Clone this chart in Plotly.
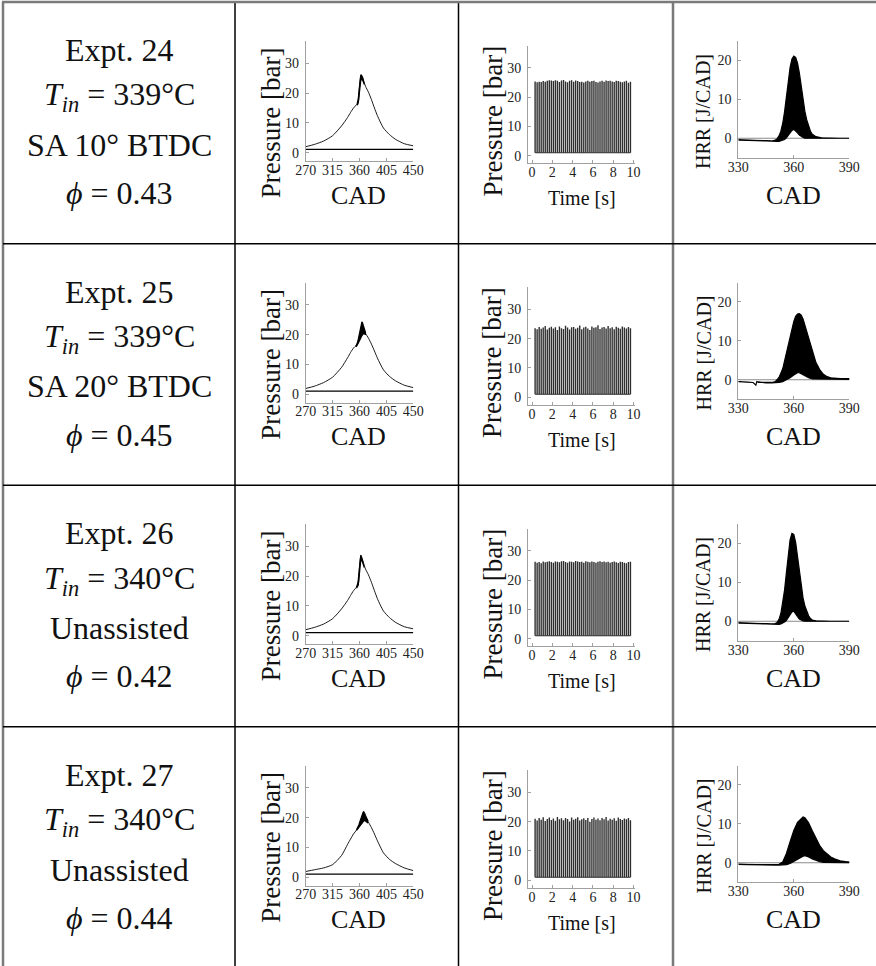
import plotly.graph_objects as go

W, H = 876, 966
ROW_STEP = 241.5

# ---------------- table text ----------------
expt_labels = ["Expt. 24", "Expt. 25", "Expt. 26", "Expt. 27"]
inlet_temp_c = [339, 339, 340, 340]
spark_setting = ["SA 10° BTDC", "SA 20° BTDC", "Unassisted", "Unassisted"]
equiv_ratio = ["0.43", "0.45", "0.42", "0.44"]

# ---------------- pressure vs crank angle ----------------
cad_grid = [270, 285, 300, 315, 330, 340, 345, 350, 355, 358, 360, 362, 364,
            366, 368, 370, 375, 380, 385, 390, 400, 410, 420, 435, 450]
p_cad_24 = [2.0, 2.8, 3.9, 5.7, 9.0, 11.8, 13.5, 15.0, 16.1, 17.0, 22.0, 25.2, 25.4,
            24.6, 23.5, 22.3, 20.3, 17.8, 15.0, 12.4, 8.3, 6.1, 4.5, 3.0, 2.3]
p_cad_25 = [1.9, 2.7, 3.9, 5.7, 9.0, 12.2, 14.0, 15.5, 16.5, 17.3, 18.6, 20.5, 21.5,
            21.6, 21.0, 20.4, 18.8, 16.8, 14.5, 12.1, 8.2, 6.0, 4.5, 3.0, 2.2]
p_cad_26 = [2.0, 2.8, 3.9, 5.7, 9.0, 11.8, 13.5, 15.1, 16.3, 17.2, 23.0, 26.4, 26.0,
            24.9, 23.6, 22.4, 20.4, 17.9, 15.1, 12.4, 8.3, 6.1, 4.5, 3.0, 2.3]
p_cad_27 = [1.9, 2.5, 3.1, 4.2, 7.3, 11.0, 12.8, 14.5, 15.8, 16.5, 17.2, 18.2, 19.2,
            19.8, 19.8, 19.4, 18.4, 16.6, 14.5, 12.2, 8.2, 6.0, 4.6, 3.1, 2.2]
p_floor = [1.1, 1.05, 1.05, 1.0]

# cycle-to-cycle spread around the pressure peak (max / min over all cycles)
band_cad_24 = [356, 357, 358, 359, 360, 361, 362, 363, 364, 365, 366, 367, 368]
band_hi_24 = [16.4, 17.0, 18.2, 20.4, 23.4, 25.3, 26.0, 26.1, 25.9, 25.4, 24.8, 24.1, 23.5]
band_lo_24 = [15.9, 16.3, 16.8, 17.4, 19.3, 22.2, 24.0, 24.8, 24.8, 24.4, 24.0, 23.4, 22.9]

band_cad_25 = [354, 356, 358, 360, 361, 362, 363, 364, 365, 366, 367, 368, 370]
band_hi_25 = [16.2, 17.0, 18.5, 20.8, 22.2, 23.3, 24.0, 24.3, 24.0, 23.4, 22.7, 22.0, 20.8]
band_lo_25 = [15.9, 16.4, 17.1, 17.8, 18.3, 18.8, 19.3, 19.7, 20.0, 20.2, 20.3, 20.3, 20.1]

band_cad_26 = [355, 356, 357, 358, 359, 360, 361, 362, 363, 364, 365, 366, 367, 368]
band_hi_26 = [16.3, 16.8, 17.5, 18.9, 21.4, 24.4, 26.2, 26.9, 26.8, 26.1, 25.4, 24.7, 24.0, 23.5]
band_lo_26 = [15.9, 16.2, 16.6, 17.1, 17.9, 20.0, 23.0, 25.0, 25.4, 25.2, 24.7, 24.1, 23.5, 22.9]

band_cad_27 = [355, 357, 359, 361, 363, 365, 366, 367, 368, 369, 370, 372, 374]
band_hi_27 = [15.9, 16.6, 17.6, 18.9, 20.3, 21.4, 21.8, 22.0, 21.8, 21.3, 20.7, 19.8, 19.0]
band_lo_27 = [15.7, 16.2, 16.8, 17.3, 17.8, 18.3, 18.6, 18.9, 19.0, 19.0, 18.9, 18.6, 18.2]

# ---------------- pressure vs time (peak pressure of each cycle) ----------------
cycle_time_s = [0.3, 0.5, 0.7, 0.9, 1.1, 1.3, 1.5, 1.7, 1.9, 2.1, 2.3, 2.5, 2.7, 2.9, 3.1, 3.3,
                3.5, 3.7, 3.9, 4.1, 4.3, 4.5, 4.7, 4.9, 5.1, 5.3, 5.5, 5.7, 5.9, 6.1, 6.3, 6.5,
                6.7, 6.9, 7.1, 7.3, 7.5, 7.7, 7.9, 8.1, 8.3, 8.5, 8.7, 8.9, 9.1, 9.3, 9.5, 9.7]
peak_p_24 = [25.4, 25.1, 25.3, 25.2, 25.5, 25.3, 25.6, 25.8, 25.7, 25.5, 25.8, 25.6, 25.2, 25.7,
             25.9, 25.4, 25.1, 25.6, 25.8, 25.3, 25.7, 25.5, 25.2, 25.3, 25.0, 25.4, 25.6, 25.3,
             25.5, 25.6, 25.2, 25.0, 25.4, 25.6, 25.3, 25.7, 25.5, 25.6, 25.4, 25.2, 25.6, 25.5,
             25.3, 25.1, 25.4, 25.6, 24.9, 25.3]
peak_p_25 = [23.6, 23.2, 24.0, 23.4, 23.8, 24.3, 23.1, 23.7, 24.1, 23.5, 23.9, 23.0, 24.2, 23.6,
             23.3, 24.4, 23.8, 23.1, 23.9, 24.0, 23.4, 23.7, 24.5, 23.2, 23.8, 24.1, 23.5, 23.0,
             24.2, 23.7, 23.9, 24.6, 23.3, 23.8, 24.0, 23.5, 24.3, 23.6, 23.9, 23.2, 24.1, 23.7,
             23.4, 24.2, 23.8, 23.5, 24.0, 23.6]
peak_p_26 = [26.3, 26.0, 26.2, 25.8, 26.4, 26.1, 26.3, 26.5, 26.2, 26.0, 26.4, 26.3, 26.1, 26.5,
             26.6, 26.2, 26.0, 26.4, 26.3, 26.1, 26.6, 26.4, 26.2, 26.3, 26.0, 26.5, 26.3, 26.1,
             26.4, 26.2, 26.0, 26.3, 26.5, 26.2, 26.4, 26.1, 26.3, 26.0, 26.2, 26.4, 26.1, 25.9,
             26.3, 26.2, 26.0, 25.8, 26.2, 26.3]
peak_p_27 = [21.0, 20.4, 21.3, 20.7, 21.5, 20.2, 20.9, 21.4, 20.6, 21.1, 20.3, 21.6, 20.8, 21.2,
             20.5, 21.3, 20.9, 20.1, 21.4, 20.7, 21.0, 21.5, 20.4, 20.8, 21.2, 20.6, 21.3, 20.0,
             20.9, 21.4, 20.7, 21.1, 20.5, 21.3, 20.8, 21.6, 20.4, 21.0, 20.7, 21.2, 20.3, 21.4,
             20.9, 20.6, 21.1, 20.8, 21.3, 20.5]
p_between_cycles = [1.0, 1.0, 1.0, 1.0]

# ---------------- heat release rate (max / min over all cycles) ----------------
hrr_cad_24 = [330, 335, 340, 345, 348, 350, 351, 352, 353, 354, 355, 356, 357, 358, 359, 360,
              361, 362, 363, 364, 365, 366, 367, 368, 369, 370, 372, 375, 380, 385, 390]
hrr_hi_24 = [-0.5, -0.5, -0.6, -0.6, -0.7, -0.5, -0.1, 0.6, 1.8, 3.8, 6.8, 10.6, 14.6, 18.2, 20.4,
             21.1, 20.8, 19.4, 16.8, 13.2, 9.8, 6.9, 4.7, 3.0, 1.8, 1.0, 0.4, 0.1, 0.0, 0.0, 0.0]
hrr_lo_24 = [-0.5, -0.5, -0.6, -0.7, -0.8, -0.8, -0.8, -0.8, -0.7, -0.5, -0.3, 0.1, 0.6, 1.3, 2.0,
             2.3, 2.0, 1.4, 0.8, 0.4, 0.2, 0.0, -0.1, -0.1, -0.1, -0.1, -0.1, -0.1, 0.0, 0.0, 0.0]

hrr_cad_25 = [330, 335, 338, 339.5, 340, 341, 345, 348, 350, 352, 354, 356, 358, 360, 361, 362,
              363, 364, 365, 366, 368, 370, 372, 374, 376, 378, 380, 385, 390]
hrr_hi_25 = [-0.5, -0.6, -0.7, -1.4, -0.5, -0.7, -0.7, -0.7, -0.5, 0.6, 2.8, 7.0, 11.5, 15.0, 16.3,
             16.9, 17.0, 16.6, 15.6, 14.0, 10.4, 7.0, 4.4, 2.6, 1.4, 0.8, 0.5, 0.3, 0.3]
hrr_lo_25 = [-0.5, -0.6, -0.7, -1.4, -0.5, -0.7, -0.8, -0.8, -0.8, -0.7, -0.5, -0.1, 0.5, 1.2, 1.6,
             1.8, 1.8, 1.6, 1.3, 1.0, 0.5, 0.2, 0.1, 0.1, 0.1, 0.1, 0.1, 0.1, 0.1]

hrr_cad_26 = [330, 335, 340, 345, 348, 350, 351, 352, 353, 354, 355, 356, 357, 358, 359, 360,
              361, 362, 363, 364, 365, 366, 367, 368, 369, 370, 372, 375, 380, 385, 390]
hrr_hi_26 = [-0.5, -0.5, -0.6, -0.6, -0.7, -0.6, -0.3, 0.5, 2.0, 4.5, 8.0, 12.5, 17.2, 21.0, 22.6,
             22.3, 20.3, 16.5, 12.4, 8.8, 6.0, 3.9, 2.4, 1.4, 0.7, 0.3, 0.1, 0.0, 0.0, 0.0, 0.0]
hrr_lo_26 = [-0.5, -0.5, -0.6, -0.7, -0.8, -0.8, -0.8, -0.8, -0.7, -0.5, -0.2, 0.2, 0.8, 1.6, 2.4,
             2.6, 2.0, 1.2, 0.6, 0.3, 0.1, 0.0, -0.1, -0.1, -0.1, -0.1, -0.1, -0.1, 0.0, 0.0, 0.0]

hrr_cad_27 = [330, 335, 340, 345, 350, 352, 354, 356, 358, 360, 362, 364, 365, 366, 368, 370, 372,
              374, 376, 378, 380, 382, 385, 388, 390]
hrr_hi_27 = [-0.4, -0.5, -0.5, -0.5, -0.5, -0.4, 0.2, 2.4, 5.4, 8.3, 10.4, 11.5, 11.8, 11.6, 10.3,
             8.2, 6.1, 4.4, 3.1, 2.2, 1.5, 1.0, 0.5, 0.3, 0.2]
hrr_lo_27 = [-0.4, -0.5, -0.5, -0.6, -0.6, -0.6, -0.6, -0.5, -0.2, 0.3, 0.8, 1.4, 1.7, 1.8, 1.5,
             1.0, 0.6, 0.3, 0.1, 0.0, 0.0, 0.0, 0.0, 0.0, 0.0]
hrr_zero = 0.0

# ---------------- axis ticks ----------------
cad_ticks = [270, 315, 360, 405, 450]
time_ticks = [0, 2, 4, 6, 8, 10]
pressure_ticks = [0, 10, 20, 30]
hrr_cad_ticks = [330, 360, 390]
hrr_ticks = [0, 10, 20]

rows = [
    (p_cad_24, band_cad_24, band_hi_24, band_lo_24, peak_p_24, hrr_cad_24, hrr_hi_24, hrr_lo_24),
    (p_cad_25, band_cad_25, band_hi_25, band_lo_25, peak_p_25, hrr_cad_25, hrr_hi_25, hrr_lo_25),
    (p_cad_26, band_cad_26, band_hi_26, band_lo_26, peak_p_26, hrr_cad_26, hrr_hi_26, hrr_lo_26),
    (p_cad_27, band_cad_27, band_hi_27, band_lo_27, peak_p_27, hrr_cad_27, hrr_hi_27, hrr_lo_27),
]

SERIF = "Liberation Serif"
AXIS_GREY = "#a0a0a0"


def dom_x(a, b):
    return [a / W, b / W]


def dom_y(top, bottom):
    return [1 - bottom / H, 1 - top / H]


def pxx(x):
    return x / W


def pxy(y):
    return 1 - y / H


def axis_style(**kw):
    d = dict(showline=True, linecolor=AXIS_GREY, linewidth=1, ticks="inside", ticklen=3,
             tickwidth=1, tickcolor=AXIS_GREY, showgrid=False, zeroline=False, automargin=False,
             tickfont=dict(family=SERIF, size=14, color="#222"), fixedrange=True)
    d.update(kw)
    return d


fig = go.Figure()
layout_axes = {}
annotations = []

for r, (p_cad, b_cad, b_hi, b_lo, peaks, h_cad, h_hi, h_lo) in enumerate(rows):
    off = r * ROW_STEP
    base = 3 * r

    # ---- pressure vs CAD ----
    n = base + 1
    xa, ya = ("x", "y") if n == 1 else (f"x{n}", f"y{n}")
    layout_axes["xaxis" if n == 1 else f"xaxis{n}"] = axis_style(
        domain=dom_x(305.7, 413.3), anchor=ya, range=[270, 450], tickvals=cad_ticks,
        ticklabelstandoff=-4)
    layout_axes["yaxis" if n == 1 else f"yaxis{n}"] = axis_style(
        domain=dom_y(41 + off, 161 + off), anchor=xa, range=[-2.8, 37.5], tickvals=pressure_ticks,
        ticklabelstandoff=3)
    fig.add_trace(go.Scatter(x=[270, 450], y=[p_floor[r], p_floor[r]], mode="lines",
                             line=dict(color="black", width=1.2), xaxis=xa, yaxis=ya))
    fig.add_trace(go.Scatter(x=cad_grid, y=p_cad, mode="lines", line=dict(color="black", width=0.9,
                             shape="spline", smoothing=0.6), xaxis=xa, yaxis=ya))
    fig.add_trace(go.Scatter(x=b_cad + b_cad[::-1], y=b_hi + b_lo[::-1], mode="lines",
                             fill="toself", fillcolor="black", line=dict(color="black", width=1.2),
                             xaxis=xa, yaxis=ya))

    # ---- pressure vs time ----
    n = base + 2
    xa, ya = f"x{n}", f"y{n}"
    layout_axes[f"xaxis{n}"] = axis_style(
        domain=dom_x(528, 635), anchor=ya, range=[-0.4, 10.15], tickvals=time_ticks,
        ticklabelstandoff=-4)
    layout_axes[f"yaxis{n}"] = axis_style(
        domain=dom_y(45.7 + off, 163.3 + off), anchor=xa, range=[-2.6, 37.6], tickvals=pressure_ticks,
        ticklabelstandoff=3)
    sx, sy = [], []
    for t, pk in zip(cycle_time_s, peaks):
        sx += [t, t, None]
        sy += [p_between_cycles[r], pk, None]
    fig.add_trace(go.Scatter(x=sx, y=sy, mode="lines", line=dict(color="#2e2e2e", width=1.4),
                             xaxis=xa, yaxis=ya))
    fig.add_trace(go.Scatter(x=[cycle_time_s[0], cycle_time_s[-1]],
                             y=[p_between_cycles[r], p_between_cycles[r]], mode="lines",
                             line=dict(color="#2e2e2e", width=1.2), xaxis=xa, yaxis=ya))

    # ---- heat release rate ----
    n = base + 3
    xa, ya = f"x{n}", f"y{n}"
    layout_axes[f"xaxis{n}"] = axis_style(
        domain=dom_x(738.3, 849.3), anchor=ya, range=[330, 390], tickvals=hrr_cad_ticks,
        ticklabelstandoff=-4)
    layout_axes[f"yaxis{n}"] = axis_style(
        domain=dom_y(41 + off, 157.7 + off), anchor=xa, range=[-5, 25], tickvals=hrr_ticks,
        ticklabelstandoff=3)
    fig.add_trace(go.Scatter(x=[330, 390], y=[hrr_zero, hrr_zero], mode="lines",
                             line=dict(color="#8a8a8a", width=1.2), xaxis=xa, yaxis=ya))
    fig.add_trace(go.Scatter(x=h_cad + h_cad[::-1], y=h_hi + h_lo[::-1], mode="lines",
                             fill="toself", fillcolor="black", line=dict(color="black", width=1.2),
                             xaxis=xa, yaxis=ya))

    # ---- first column: run conditions ----
    cond_lines = [
        expt_labels[r],
        f"<i>T</i><sub><i>in</i></sub> = {inlet_temp_c[r]}°C",
        spark_setting[r],
        f"<i>ϕ</i> = {equiv_ratio[r]}",
    ]
    for text, yc in zip(cond_lines, [50, 97, 145, 193]):
        annotations.append(dict(text=text, x=pxx(119), y=pxy(yc + off), xref="paper", yref="paper",
                                showarrow=False, xanchor="center", yanchor="middle",
                                font=dict(family=SERIF, size=32, color="#111")))

    # ---- axis titles ----
    titles = [
        ("Pressure [bar]", 270.8, 122.5, -90, 27),
        ("CAD", 358.3, 195, 0, 26),
        ("Pressure [bar]", 492.5, 121, -90, 27),
        ("Time [s]", 582, 198, 0, 20),
        ("HRR [J/CAD]", 703, 112, -90, 20),
        ("CAD", 793.3, 195, 0, 26),
    ]
    for text, x, y, ang, size in titles:
        annotations.append(dict(text=text, x=pxx(x), y=pxy(y + off), xref="paper", yref="paper",
                                showarrow=False, xanchor="center", yanchor="middle", textangle=ang,
                                font=dict(family=SERIF, size=size, color="#111")))

# ---- table rules ----
shapes = []
for x, col, wd in [(3, "#7a7a7a", 2.5), (235, "black", 1.5), (458.5, "black", 1.5), (673, "#7a7a7a", 2.5)]:
    shapes.append(dict(type="line", xref="paper", yref="paper", x0=pxx(x), x1=pxx(x),
                       y0=pxy(2), y1=pxy(H), line=dict(color=col, width=wd)))
shapes.append(dict(type="line", xref="paper", yref="paper", x0=pxx(2), x1=1,
                   y0=pxy(2), y1=pxy(2), line=dict(color="#7a7a7a", width=2.5)))
for y in [243.7, 485.2, 726.7]:
    shapes.append(dict(type="line", xref="paper", yref="paper", x0=pxx(3), x1=1,
                       y0=pxy(y), y1=pxy(y), line=dict(color="black", width=1.5)))

fig.update_traces(showlegend=False, hoverinfo="skip")
fig.update_layout(
    width=W, height=H, autosize=False, margin=dict(l=0, r=0, t=0, b=0, pad=0),
    paper_bgcolor="white", plot_bgcolor="white",
    annotations=annotations, shapes=shapes, **layout_axes,
)

fig.write_html("out.html")
